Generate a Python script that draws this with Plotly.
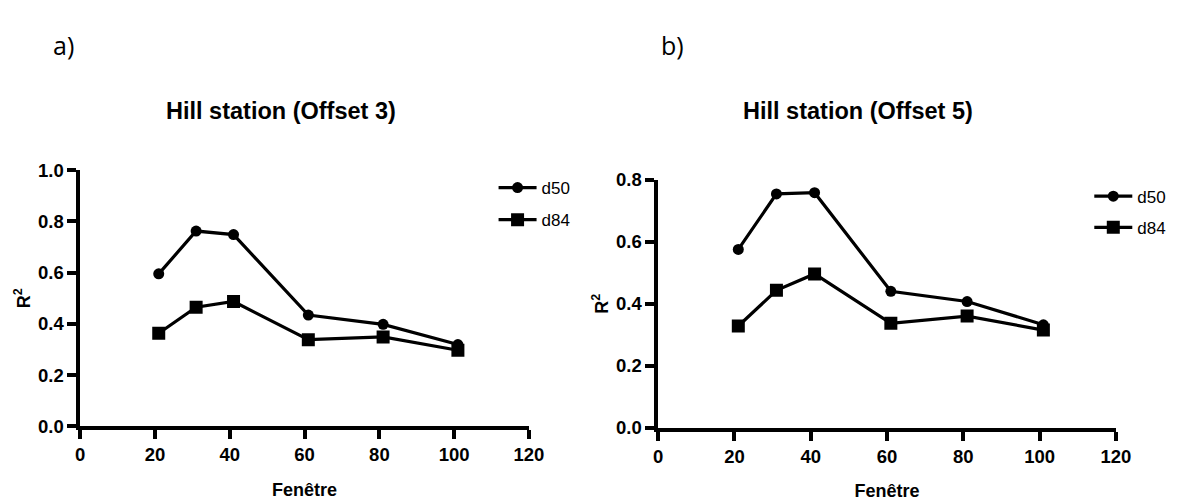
import plotly.graph_objects as go

W, H = 1179, 501

fenetre = [21, 31, 41, 61, 81, 101]
a_d50 = [0.595, 0.762, 0.748, 0.434, 0.398, 0.319]
a_d84 = [0.363, 0.465, 0.487, 0.338, 0.349, 0.297]
b_d50 = [0.575, 0.754, 0.758, 0.440, 0.407, 0.332]
b_d84 = [0.328, 0.443, 0.496, 0.337, 0.360, 0.315]

x_ticks = [0, 20, 40, 60, 80, 100, 120]
a_y_ticks = [0.0, 0.2, 0.4, 0.6, 0.8, 1.0]
b_y_ticks = [0.0, 0.2, 0.4, 0.6, 0.8]

FONT = "Liberation Sans"

def px_x(v):
    return v / W

def px_y(v):
    return 1 - v / H

fig = go.Figure()

line = dict(color="black", width=3.2)
for name, ys, sym, size in [("d50", a_d50, "circle", 11), ("d84", a_d84, "square", 13)]:
    fig.add_trace(go.Scatter(x=fenetre, y=ys, name=name, mode="lines+markers",
                             line=line, marker=dict(symbol=sym, size=size, color="black"),
                             xaxis="x", yaxis="y", legend="legend", legendgroup="a" + name))
for name, ys, sym, size in [("d50", b_d50, "circle", 11), ("d84", b_d84, "square", 13)]:
    fig.add_trace(go.Scatter(x=fenetre, y=ys, name=name, mode="lines+markers",
                             line=line, marker=dict(symbol=sym, size=size, color="black"),
                             xaxis="x2", yaxis="y2", legend="legend2", legendgroup="b" + name))

tickfont = dict(family=FONT, size=18.5, color="black", weight="bold")
titlefont = dict(family=FONT, size=18, color="black", weight="bold")

def xaxis(domain, anchor):
    return dict(domain=domain, anchor=anchor, range=[0, 120], tickvals=x_ticks,
                showgrid=False, zeroline=False, showline=True, linecolor="black",
                linewidth=3.5, ticks="outside", ticklen=9, tickwidth=3.5, tickcolor="black",
                tickfont=tickfont, title=dict(text="Fenêtre", font=titlefont, standoff=20))

def yaxis(domain, anchor, rng, ticks):
    return dict(domain=domain, anchor=anchor, range=rng, tickvals=ticks,
                tickformat=".1f", showgrid=False, zeroline=False, showline=True,
                linecolor="black", linewidth=3.5, ticks="outside", ticklen=9, tickwidth=3.5,
                tickcolor="black", tickfont=tickfont,
                title=dict(text="R<sup>2</sup>", font=titlefont, standoff=4))

fig.update_layout(
    width=W, height=H,
    margin=dict(l=0, r=0, t=0, b=0),
    paper_bgcolor="white", plot_bgcolor="white",
    xaxis=xaxis([px_x(76.5), px_x(533)], "y"),
    yaxis=yaxis([px_y(433.5), px_y(166)], "x", [0, 1.0], a_y_ticks),
    xaxis2=xaxis([px_x(664.5), px_x(1130)], "y2"),
    yaxis2=yaxis([px_y(435), px_y(176)], "x2", [0, 0.8], b_y_ticks),
    legend=dict(x=px_x(497), y=px_y(166), xanchor="left", yanchor="top",
                font=dict(family=FONT, size=17, color="black"), itemwidth=38,
                tracegroupgap=7, bgcolor="rgba(0,0,0,0)"),
    legend2=dict(x=px_x(1103), y=px_y(175), xanchor="left", yanchor="top",
                 font=dict(family=FONT, size=17, color="black"), itemwidth=38,
                 tracegroupgap=6, bgcolor="rgba(0,0,0,0)"),
    showlegend=True,
)

anns = [
    dict(text="a)", x=px_x(60), y=px_y(35), font=dict(family="Open Sans", size=25, color="black")),
    dict(text="b)", x=px_x(679), y=px_y(35), font=dict(family="Open Sans", size=25, color="black")),
    dict(text="<b>Hill station (Offset 3)</b>", x=px_x(281), y=px_y(104),
         font=dict(family=FONT, size=23.5, color="black")),
    dict(text="<b>Hill station (Offset 5)</b>", x=px_x(868), y=px_y(104),
         font=dict(family=FONT, size=23.5, color="black")),
]
for a in anns:
    fig.add_annotation(xref="paper", yref="paper", showarrow=False,
                       xanchor="center", yanchor="middle", **a)

fig.write_html("out.html")
